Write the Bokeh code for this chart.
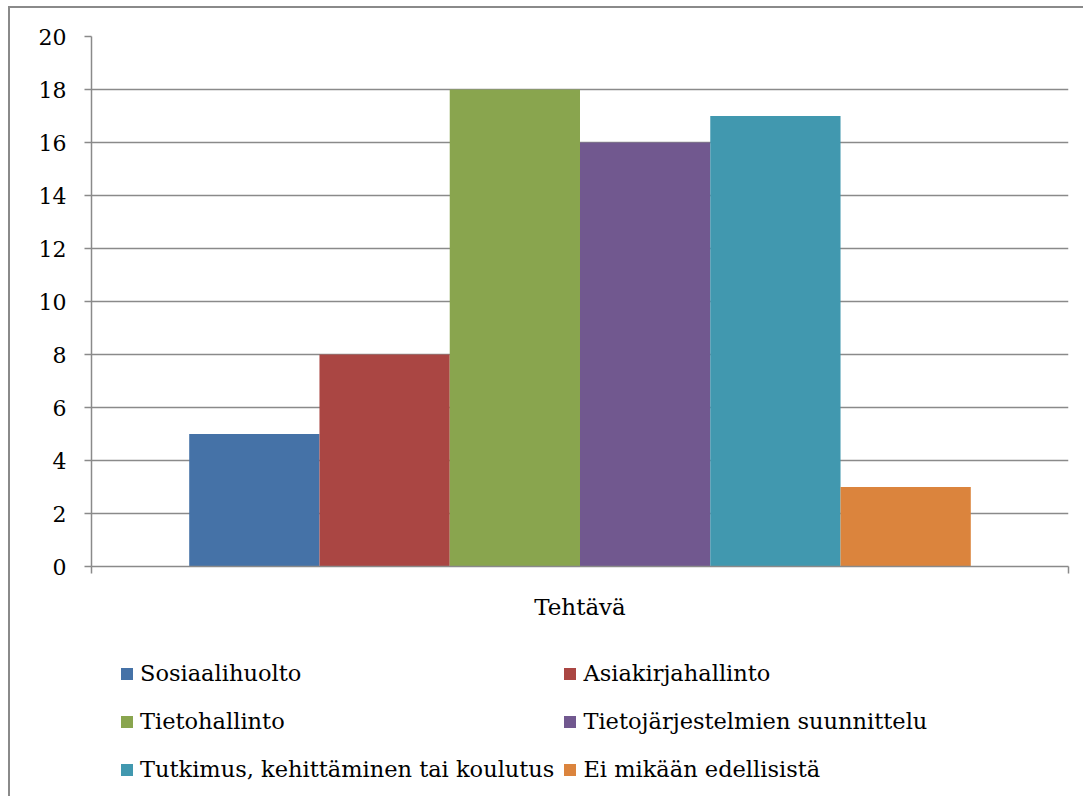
from bokeh.plotting import figure
from bokeh.layouts import column
from bokeh.models import Range1d, FixedTicker, Legend, LegendItem
from bokeh.embed import file_html
from bokeh.resources import INLINE

# ---- data ----
category = "Tehtävä"
series = [
    "Sosiaalihuolto",
    "Asiakirjahallinto",
    "Tietohallinto",
    "Tietojärjestelmien suunnittelu",
    "Tutkimus, kehittäminen tai koulutus",
    "Ei mikään edellisistä",
]
values = [5, 8, 18, 16, 17, 3]
colors = ["#4572A7", "#AA4643", "#89A54E", "#71588F", "#4198AF", "#DB843D"]
y_ticks = [0, 2, 4, 6, 8, 10, 12, 14, 16, 18, 20]

FONT = "DejaVu Serif"
GRAY = "#8a8a8a"

p = figure(
    width=1073, height=632,
    x_range=Range1d(0, 1), y_range=Range1d(0, 20),
    output_backend="svg", toolbar_location=None,
    min_border_left=81, min_border_top=28, min_border_right=15, min_border_bottom=74,
)
p.outline_line_color = None
p.background_fill_color = "white"
p.border_fill_color = "white"

group_width = 0.8
bar_w = group_width / len(series)
for i, (s, v, c) in enumerate(zip(series, values, colors)):
    xc = 0.5 - group_width / 2 + bar_w * (i + 0.5)
    p.vbar(x=[xc], top=[v], bottom=0, width=bar_w, fill_color=c, line_color=None)

# y axis
p.yaxis.ticker = FixedTicker(ticks=y_ticks)
p.yaxis.axis_line_color = GRAY
p.yaxis.axis_line_width = 1.5
p.yaxis.major_tick_line_color = GRAY
p.yaxis.major_tick_line_width = 1.5
p.yaxis.major_tick_in = 0
p.yaxis.major_tick_out = 7
p.yaxis.minor_tick_line_color = None
p.yaxis.major_label_standoff = 18
p.yaxis.major_label_text_font = FONT
p.yaxis.major_label_text_font_size = "22px"
p.yaxis.major_label_text_color = "black"

# x axis
p.xaxis.ticker = FixedTicker(ticks=[0.5], minor_ticks=[0, 1])
p.xaxis.major_label_overrides = {0.5: category}
p.xaxis.axis_line_color = GRAY
p.xaxis.axis_line_width = 1.5
p.xaxis.major_tick_line_color = None
p.xaxis.major_tick_in = 0
p.xaxis.major_tick_out = 0
p.xaxis.minor_tick_line_color = GRAY
p.xaxis.minor_tick_line_width = 1.5
p.xaxis.minor_tick_in = 0
p.xaxis.minor_tick_out = 7
p.xaxis.major_label_standoff = 20
p.xaxis.major_label_text_font = FONT
p.xaxis.major_label_text_font_size = "23px"
p.xaxis.major_label_text_color = "black"

p.xgrid.grid_line_color = None
p.ygrid.ticker = FixedTicker(ticks=y_ticks)
p.ygrid.grid_line_color = GRAY
p.ygrid.grid_line_width = 1.5

# legend figure (frame aligned with the main plot's frame by the column layout)
pl = figure(
    width=1073, height=156, x_range=Range1d(0, 1), y_range=Range1d(0, 1),
    output_backend="svg", toolbar_location=None,
    x_axis_location=None, y_axis_location=None, min_border=0,
)
pl.outline_line_color = None
pl.grid.grid_line_color = None
nan = float("nan")
leg_renderers = [
    pl.vbar(x=[nan], top=[nan], width=0.1, fill_color=c, line_color=None) for c in colors
]

order = [0, 2, 4, 1, 3, 5]
legend = Legend(
    items=[LegendItem(label=series[k], renderers=[leg_renderers[k]]) for k in order],
    location=(28, 7),
    ncols=2,
)
legend.glyph_width = 15
legend.glyph_height = 15
legend.label_standoff = 6
legend.label_height = 40
legend.padding = 0
legend.margin = 0
legend.spacing = 8
legend.border_line_color = None
legend.background_fill_alpha = 0
legend.label_text_font = FONT
legend.label_text_font_size = "22.5px"
legend.label_text_color = "black"
pl.add_layout(legend, "center")

layout = column(p, pl, spacing=0)
layout.styles = {
    "border-left": "2px solid #8a8a8a",
    "border-top": "2px solid #8a8a8a",
    "margin-left": "8px",
    "margin-top": "6px",
}

open("out.html", "w").write(file_html(layout, INLINE))
